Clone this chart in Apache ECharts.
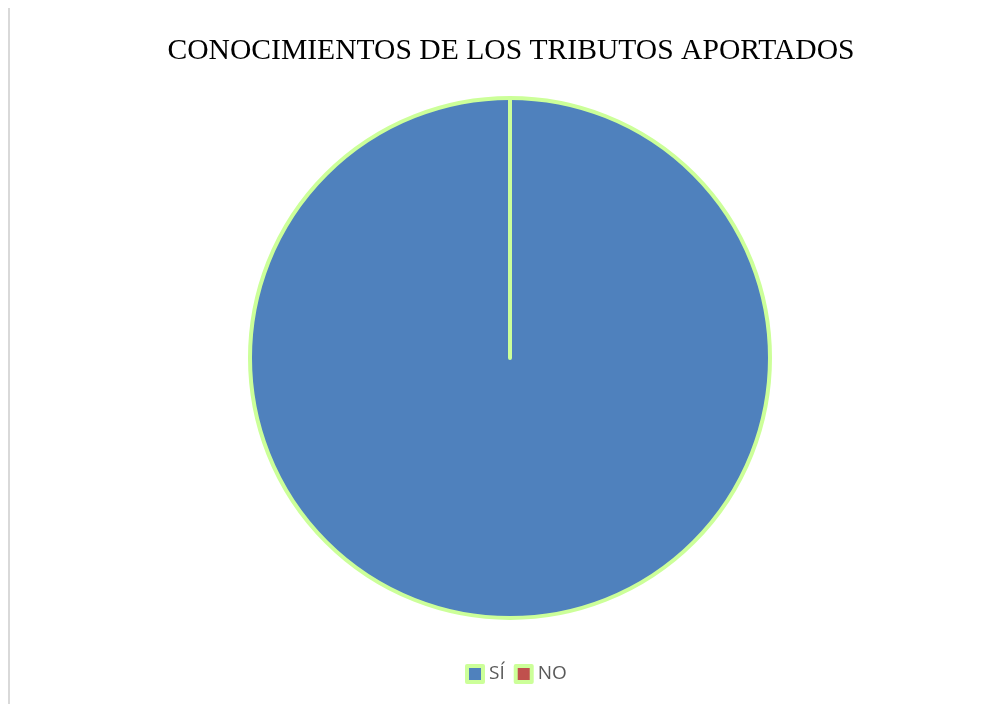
<!DOCTYPE html>
<html>
<head>
<meta charset="utf-8">
<script src="https://cdn.jsdelivr.net/npm/echarts@6/dist/echarts.min.js"></script>
<style>
  html, body { margin: 0; padding: 0; background: #ffffff; }
  #chart { width: 1002px; height: 704px; }
</style>
</head>
<body>
<div id="chart"></div>
<script>
// Respuestas: conocimiento de los tributos aportados
const categories = ['SÍ', 'NO'];
const values = [100, 0];
const colors = ['#4F81BD', '#C0504D'];

const chart = echarts.init(document.getElementById('chart'), null, { renderer: 'canvas' });

const option = {
  backgroundColor: '#ffffff',
  animation: false,
  title: {
    text: 'CONOCIMIENTOS DE LOS TRIBUTOS APORTADOS',
    left: 506,
    textAlign: 'center',
    top: 31,
    textStyle: {
      fontFamily: '"Liberation Serif", "Times New Roman", serif',
      fontSize: 29.6,
      fontWeight: 'normal',
      color: '#000000'
    }
  },
  legend: {
    top: 664,
    left: 465,
    padding: 0,
    itemWidth: 16,
    itemHeight: 16,
    itemGap: 9,
    icon: 'rect',
    itemStyle: {
      borderColor: '#CCFF99',
      borderWidth: 4
    },
    textStyle: {
      fontFamily: '"Open Sans", "Liberation Sans", sans-serif',
      fontSize: 19,
      color: '#595959',
      padding: [2, 0, 0, 1]
    },
    data: categories
  },
  graphic: [{
    type: 'rect',
    shape: { x: 8, y: 8, width: 2, height: 696 },
    style: { fill: '#d9d9d9' },
    silent: true
  }],
  series: [{
    type: 'pie',
    center: [510, 358],
    radius: [0, 260],
    startAngle: 90,
    clockwise: true,
    minAngle: 0,
    stillShowZeroSum: true,
    label: { show: false },
    labelLine: { show: false },
    emphasis: { disabled: true },
    itemStyle: {
      borderColor: '#CCFF99',
      borderWidth: 4
    },
    data: categories.map((name, i) => ({
      name: name,
      value: values[i],
      itemStyle: { color: colors[i] }
    }))
  }]
};

chart.setOption(option);
</script>
</body>
</html>
